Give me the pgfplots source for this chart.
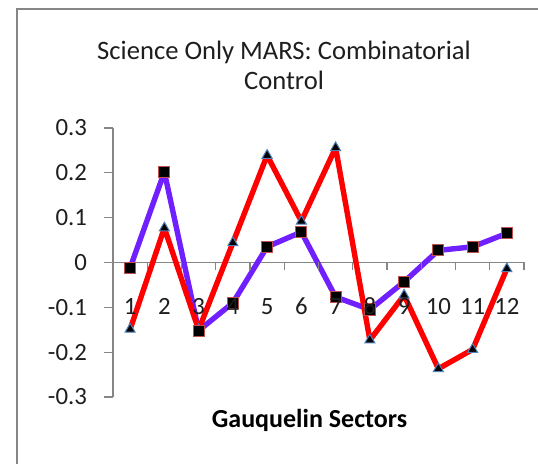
\documentclass[border=0pt]{standalone}
\usepackage{pgfplots}
\pgfplotsset{compat=1.18}
\usepackage{fontspec}
\setmainfont{Carlito}
\definecolor{vio}{RGB}{112,32,255}
\definecolor{sqedge}{RGB}{192,80,77}
\definecolor{triedge}{RGB}{79,129,189}
\definecolor{axgray}{RGB}{134,134,134}
\definecolor{txt}{RGB}{30,30,30}
\begin{document}
\begin{tikzpicture}
\clip (-56.5pt,-33.5pt) rectangle (212.5pt,198.5pt);
\draw[axgray, line width=1.1pt] (-48pt,-40pt) -- (-48pt,194pt) -- (220pt,194pt);
\begin{axis}[
  at={(0pt,0pt)}, anchor=south west,
  scale only axis, width=205.5pt, height=134.5pt,
  xmin=0.5, xmax=12.5, ymin=-0.3, ymax=0.3,
  axis x line=none, axis y line=left,
  axis line style={-, axgray, line width=0.6pt},
  tick align=outside,
  tick style={axgray, line width=0.6pt},
  major tick length=4.5pt,
  ytick={-0.3,-0.2,-0.1,0,0.1,0.2,0.3},
  yticklabels={-0.3,-0.2,-0.1,0,0.1,0.2,0.3},
  yticklabel style={anchor=east, xshift=-5pt, font=\fontsize{12.4}{14}\selectfont, text=txt},
  extra y ticks={0}, extra y tick labels={},
  extra y tick style={grid=major, major grid style={axgray, line width=0.6pt}},
  clip=false,
]
\addplot[vio, line width=2.7pt, line join=round, line cap=round, no marks] coordinates {
(1,-0.012)(2,0.202)(3,-0.152)(4,-0.090)(5,0.035)(6,0.068)
(7,-0.077)(8,-0.105)(9,-0.043)(10,0.027)(11,0.035)(12,0.065)};
\addplot[red, line width=2.7pt, line join=round, line cap=round, no marks] coordinates {
(1,-0.149)(2,0.077)(3,-0.150)(4,0.044)(5,0.239)(6,0.092)
(7,0.256)(8,-0.173)(9,-0.073)(10,-0.237)(11,-0.194)(12,-0.014)};
\addplot[only marks, mark=triangle*, mark size=2.9pt,
  mark options={fill=black, draw=triedge, line width=0.5pt}] coordinates {
(1,-0.149)(2,0.077)(3,-0.150)(4,0.044)(5,0.239)(6,0.092)
(7,0.256)(8,-0.173)(9,-0.073)(10,-0.237)(11,-0.194)(12,-0.014)};
\addplot[only marks, mark=square*, mark size=2.8pt,
  mark options={fill=black, draw=sqedge, line width=0.5pt}] coordinates {
(1,-0.012)(2,0.202)(3,-0.152)(4,-0.090)(5,0.035)(6,0.068)
(7,-0.077)(8,-0.105)(9,-0.043)(10,0.027)(11,0.035)(12,0.065)};
\end{axis}
\begin{axis}[
  at={(0pt,67.25pt)}, anchor=south west,
  scale only axis, width=205.5pt, height=20pt,
  xmin=0.5, xmax=12.5, ymin=0, ymax=1,
  axis x line=bottom, axis y line=none,
  axis line style={draw=none},
  tick align=outside,
  tick style={axgray, line width=0.6pt},
  major tick length=4pt,
  xtick={0.5,1.5,2.5,3.5,4.5,5.5,6.5,7.5,8.5,9.5,10.5,11.5,12.5},
  xticklabels={},
  extra x ticks={1,2,3,4,5,6,7,8,9,10,11,12},
  extra x tick labels={1,2,3,4,5,6,7,8,9,10,11,12},
  extra x tick style={major tick length=0pt,
     xticklabel style={anchor=center, yshift=-22pt}},
  xticklabel style={font=\fontsize{12.4}{14}\selectfont, text=txt},
]
\end{axis}
\node[align=center, text=txt, font=\fontsize{13.3}{15}\selectfont] at (85.5pt,166pt)
  {Science Only MARS: Combinatorial\\Control};
\node[font=\fontsize{13}{15}\selectfont\bfseries] at (98.25pt,-11.5pt) {Gauquelin Sectors};
\end{tikzpicture}
\end{document}
